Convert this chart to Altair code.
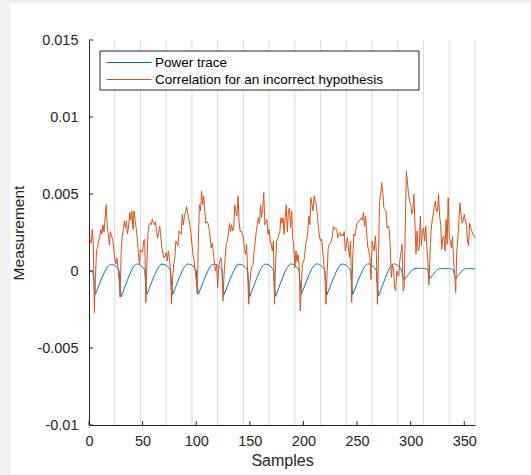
import altair as alt
import pandas as pd

# ---- data (values in units of 1e-4) ----
power_e4 = [
    0.2, 0.1, 0.0, -0.2, -2.0, -9.0, -15.0, -13.4, -11.6, -9.8, -8.0, -6.2, -4.5, -2.9, -1.4, 0.0, 1.3, 2.5, 3.4, 3.9, 4.2, 4.3, 4.2, 4.0,
    3.6, 3.1, 2.5, 1.6, 0.4, -9.5, -16.8, -15.0, -13.1, -11.2, -9.3, -7.4, -5.6, -3.8, -2.1, -0.6, 0.9, 2.2, 3.3, 4.0, 4.4, 4.5, 4.4, 4.1,
    3.7, 3.2, 2.5, 1.7, 0.5, -9.0, -15.2, -13.5, -11.7, -9.9, -8.1, -6.3, -4.6, -3.0, -1.5, 0.0, 1.4, 2.6, 3.5, 4.1, 4.4, 4.4, 4.3, 4.0,
    3.6, 3.1, 2.4, 1.6, 0.4, -9.2, -15.3, -13.6, -11.8, -10.0, -8.2, -6.4, -4.6, -3.0, -1.4, 0.1, 1.5, 2.7, 3.6, 4.2, 4.5, 4.5, 4.3, 4.1,
    3.7, 3.2, 2.5, 1.7, 0.5, -9.1, -15.1, -13.4, -11.6, -9.8, -8.0, -6.2, -4.5, -2.9, -1.3, 0.2, 1.5, 2.7, 3.6, 4.2, 4.4, 4.5, 4.3, 4.0,
    3.6, 3.0, 2.4, 1.5, 0.3, -9.3, -15.4, -13.7, -11.9, -10.0, -8.2, -6.4, -4.6, -3.0, -1.4, 0.1, 1.4, 2.6, 3.5, 4.1, 4.4, 4.4, 4.2, 4.0,
    3.5, 3.0, 2.3, 1.5, 0.2, -9.8, -16.6, -14.8, -12.9, -11.0, -9.1, -7.3, -5.5, -3.7, -2.0, -0.5, 1.0, 2.3, 3.3, 4.0, 4.4, 4.5, 4.4, 4.1,
    3.7, 3.2, 2.5, 1.6, 0.4, -9.7, -16.5, -14.7, -12.8, -10.9, -9.0, -7.2, -5.4, -3.6, -1.9, -0.4, 1.1, 2.4, 3.4, 4.1, 4.5, 4.6, 4.4, 4.1,
    3.7, 3.1, 2.4, 1.5, 0.3, -9.1, -15.2, -13.5, -11.7, -9.9, -8.1, -6.3, -4.5, -2.9, -1.3, 0.2, 1.6, 2.8, 3.7, 4.3, 4.6, 4.6, 4.4, 4.1,
    3.6, 3.1, 2.4, 1.6, 0.4, -9.2, -15.3, -13.6, -11.8, -10.0, -8.2, -6.4, -4.6, -3.0, -1.4, 0.1, 1.5, 2.7, 3.6, 4.2, 4.5, 4.5, 4.3, 4.0,
    3.6, 3.0, 2.3, 1.5, 0.3, -9.0, -15.2, -13.5, -11.7, -9.9, -8.1, -6.3, -4.5, -2.9, -1.3, 0.2, 1.6, 2.8, 3.7, 4.3, 4.6, 4.6, 4.3, 4.0,
    3.5, 3.0, 2.3, 1.4, 0.2, -9.6, -16.3, -14.5, -12.6, -10.7, -8.8, -7.0, -5.2, -3.4, -1.7, -0.2, 1.3, 2.6, 3.6, 4.3, 4.6, 4.6, 4.4, 4.1,
    3.6, 3.0, 2.2, 1.2, -0.8, -4.2, -5.8, -4.9, -4.0, -3.1, -2.2, -1.3, -0.5, 0.3, 0.9, 1.3, 1.6, 1.7, 1.8, 1.7, 1.8, 1.7, 1.8, 1.7,
    1.6, 1.7, 1.5, 1.3, 0.4, -3.3, -4.9, -4.0, -3.1, -2.2, -1.3, -0.5, 0.3, 0.9, 1.3, 1.5, 1.6, 1.5, 1.7, 1.6, 1.6, 1.5, 1.6, 1.6,
    1.5, 1.6, 1.5, 1.3, 0.3, -3.4, -5.0, -4.1, -3.2, -2.3, -1.4, -0.6, 0.2, 0.8, 1.2, 1.5, 1.6, 1.5, 1.6, 1.5, 1.6, 1.6, 1.5, 1.5,
    1.5,
]

corr_e4 = [
    19.5, 20.5, 18, 27, 19, -27, -5, 13, 16, 19.5, 22, 27, 24, 30, 25.5, 34.5, 43, 30, 24, 17, 25.5, 22.5, 21, 15,
    8, 4.5, 8.5, 2, -5, -17, 13, 22.5, 27, 32.5, 28, 32.5, 24, 30, 38, 33, 39, 27, 39, 33, 28, 21.5, 12, 4.5,
    14, 13, 12, 19.5, 20.5, -20.5, 5, 24, 30, 31, 30, 33.5, 31, 30, 32, 26, 21.5, 25, 29, 22, 15, 11, 8.5, 10,
    12, 6.5, 13, 8, 0, -21.5, -4.5, 4, 8.5, 19.5, 18, 16.5, 26, 24.5, 24, 36.8, 30, 35.7, 38, 42, 38, 34.6, 30, 25,
    17.3, 10.8, 7, 0, -6, -15, 20, 43, 39, 52, 43, 48.7, 39, 31, 32, 31, 27, 22, 15, 18, 12, 5, 0, 4,
    -10.8, 3, 6.5, 8.7, 2, -19.5, -2, 8.7, 17.3, 19.5, 24, 31, 25.6, 30, 26, 28, 43, 38, 35.7, 48.7, 32, 25.6, 26, 24,
    21.6, 14, 10.8, 17.3, -2, -21.6, -8, 0, 3, 4.4, 13, 19, 25.6, 30, 34.6, 31, 43, 34.6, 40, 50.9, 30, 32, 33.5, 23.8,
    27, 20, 17.3, 13, 19.5, -21.6, 5, 19.5, 20.6, 24, 25.6, 34.6, 31, 34.6, 23.8, 35, 43, 25.6, 39, 41, 28, 39, 21.6, 15,
    2, 13, 6, 10.8, 4, -26, -10.8, 4.4, 6, 8.7, 17.3, 20, 25.6, 35.7, 30, 47.6, 43, 39, 48.7, 45, 43, 35.7, 28, 22,
    19.5, 20.6, 13, 4.4, -2, -21.6, -4.3, 14, 17.3, 18, 19.5, 22.7, 29, 27, 28, 27, 21.6, 23.8, 25, 22.7, 23.8, 22.7, 25.6, 13,
    17, 21.6, 15, 8.7, 19.5, -20.6, 10, 24, 22.7, 27, 31, 32, 32.5, 33.5, 34.6, 33, 38, 29, 35.7, 24, 15.6, 13, 8, -5.5,
    19.5, 16, 13, 22.7, 12, -21.6, 10, 45.4, 49.8, 57.4, 51, 41, 40, 39, 28, 29, 27, 15, -4.3, 4, 2, -10.8, -13, 0,
    -2, -3.2, 7.6, 12, 17.3, -13, -10.8, 30, 65, 58, 49.8, 45.4, 44, 37, 39.5, 49.8, 30, 11, 26, 13, 15, 35.7, 16.5, 26,
    28, 19.5, 29, 16.5, 6.5, -9, 10, 26, 32.5, 36.8, 42, 45.4, 38.5, 39, 49.8, 35.7, 30, 14, 21.6, 22.7, 13, 33.5, 17.3, 47.6,
    21.6, 19.5, 15, 22.7, 6.5, -2, -14, 13, 21.6, 32.5, 44.3, 36.8, 31, 33, 36.8, 32.5, 30.3, 19.5, 16.5, 31, 28, 26, 24, 23,
    21.6,
]

series_names = ["Power trace", "Correlation for an incorrect hypothesis"]
series_colors = ["#0072BD", "#D95319"]
x_tick_values = [0, 50, 100, 150, 200, 250, 300, 350]
y_tick_values = [-0.01, -0.005, 0, 0.005, 0.01, 0.015]
grid_positions = [24, 48, 72, 96, 120, 144, 168, 192, 216, 240, 264, 288, 312, 336, 360]
x_domain = [0, 360]
y_domain = [-0.01, 0.015]

W, H = 386, 385
FONT = "Liberation Sans"
TXT = "#262626"

samples = list(range(len(power_e4)))
df = pd.DataFrame({
    "Samples": samples * 2,
    "Measurement": [v * 1e-4 for v in power_e4] + [v * 1e-4 for v in corr_e4],
    "series": [series_names[0]] * len(power_e4) + [series_names[1]] * len(corr_e4),
})

xs = alt.Scale(domain=x_domain, nice=False, zero=False)
ys = alt.Scale(domain=y_domain, nice=False, zero=False)
cscale = alt.Scale(domain=series_names, range=series_colors)

axis_x = alt.Axis(
    values=x_tick_values, ticks=False, grid=False, domainColor=TXT,
    labelFont=FONT, labelFontSize=14.5, labelColor=TXT, labelPadding=9,
    titleFont=FONT, titleFontSize=16, titleColor=TXT, titleFontWeight="normal",
    titlePadding=5, labelFlush=False,
)
axis_y = alt.Axis(
    values=y_tick_values, ticks=False, grid=False, domainColor=TXT,
    labelFont=FONT, labelFontSize=14.5, labelColor=TXT, labelPadding=11,
    labelExpr="replace(format(datum.value, '~g'), '\u2212', '-')",
    titleFont=FONT, titleFontSize=15.5, titleColor=TXT, titleFontWeight="normal",
    titlePadding=10,
)


def X(field):
    return alt.X(field, scale=xs, axis=axis_x, title="Samples")


def Y(field):
    return alt.Y(field, scale=ys, axis=axis_y, title="Measurement")


grid_df = pd.DataFrame({"g": grid_positions})
grid = alt.Chart(grid_df).mark_rule(color="#dadada", strokeWidth=1).encode(
    x=X("g:Q"), y=alt.value(0), y2=alt.value(H)
)

power_line = alt.Chart(df).transform_filter(
    alt.datum.series == series_names[0]
).mark_line(strokeWidth=1).encode(
    x=X("Samples:Q"), y=Y("Measurement:Q"),
    color=alt.Color("series:N", scale=cscale, legend=None),
)
corr_line = alt.Chart(df).transform_filter(
    alt.datum.series == series_names[1]
).mark_line(strokeWidth=1).encode(
    x=X("Samples:Q"), y=Y("Measurement:Q"),
    color=alt.Color("series:N", scale=cscale, legend=None),
)

yt_df = pd.DataFrame({"t": y_tick_values})
yticks = alt.Chart(yt_df).mark_rule(color=TXT).encode(
    y=Y("t:Q"), x=alt.value(0), x2=alt.value(4)
)
xt_df = pd.DataFrame({"t": x_tick_values})
xticks = alt.Chart(xt_df).mark_rule(color=TXT).encode(
    x=X("t:Q"), y=alt.value(H), y2=alt.value(H - 4)
)

# ---- legend box (drawn manually, MATLAB style) ----
LX0, LY0, LX1, LY1 = 11, 11, 330, 50
ROW_Y = [22.5, 39.5]
leg_box = alt.Chart(pd.DataFrame({"k": [0]})).mark_rect(
    fill="white", stroke=TXT, strokeWidth=1
).encode(x=alt.value(LX0), x2=alt.value(LX1), y=alt.value(LY0), y2=alt.value(LY1))
leg_lines = []
leg_texts = []
for r, name in enumerate(series_names):
    sub = pd.DataFrame({"series": [name]})
    leg_lines.append(
        alt.Chart(sub).mark_rule(strokeWidth=1.2).encode(
            x=alt.value(17.5), x2=alt.value(62.5), y=alt.value(ROW_Y[r]),
            color=alt.Color("series:N", scale=cscale, legend=None),
        )
    )
    leg_texts.append(
        alt.Chart(sub).mark_text(
            align="left", baseline="middle", font=FONT, fontSize=13.5, color="#000000"
        ).encode(x=alt.value(66), y=alt.value(ROW_Y[r]), text="series:N")
    )

frame_df = pd.DataFrame({"k": [0]})
left_strip = alt.Chart(frame_df).mark_rect(color="#f0f0f0").encode(
    x=alt.value(-89), x2=alt.value(-79), y=alt.value(-40), y2=alt.value(H + 50)
)
top_strip = alt.Chart(frame_df).mark_rect(color="#f0f0f0").encode(
    x=alt.value(-89), x2=alt.value(W + 56), y=alt.value(-40), y2=alt.value(-37)
)

chart = alt.layer(
    grid, power_line, corr_line, yticks, xticks, leg_box, *leg_lines, *leg_texts,
    left_strip, top_strip,
).properties(
    width=W, height=H,
    autosize="none",
    padding={"left": 89, "top": 40, "right": 56, "bottom": 50},
    background="white",
).configure_view(stroke=None)

chart.save("out.html", embed_options={"renderer": "svg", "actions": False})
